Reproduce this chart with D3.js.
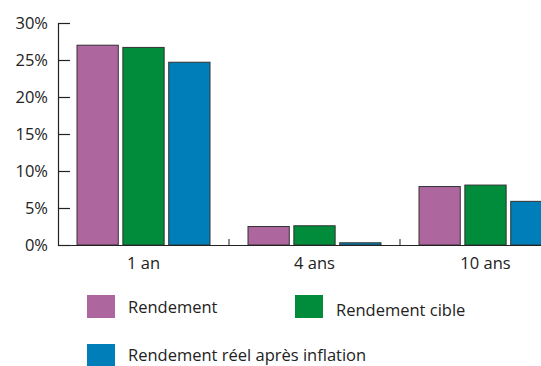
<!DOCTYPE html>
<html>
<head>
<meta charset="utf-8">
<script src="https://cdn.jsdelivr.net/npm/d3@7"></script>
<style>
  body { margin: 0; background: #fff; }
  text { font-family: "Open Sans", "Noto Sans", sans-serif; fill: #222; }
</style>
</head>
<body>
<script>
// data
const categories = ['1 an', '4 ans', '10 ans'];
const seriesNames = ['Rendement', 'Rendement cible', 'Rendement réel après inflation'];
const rendement = [27.0, 2.5, 7.9];
const rendementCible = [26.7, 2.6, 8.1];
const rendementReel = [24.7, 0.3, 5.9];
const yTicks = [0, 5, 10, 15, 20, 25, 30];
const colors = ['#ae669e', '#008c3a', '#007eb9'];

const seriesValues = [rendement, rendementCible, rendementReel];

const svg = d3.select('body')
              .append('svg')
              .attr('width', 541)
              .attr('height', 366);

const xscale = d3.scaleBand()
                .domain(categories)
                .range([58, 571])
                .paddingInner(0)
                .paddingOuter(0);

const inner = d3.scaleBand()
                .domain(d3.range(3))
                .range([19, xscale.bandwidth() - 19])
                .paddingInner(0.1);

const yscale = d3.scaleLinear()
                .domain([0, 30])
                .range([245, 23]);

// y axis, ticks point into the plot
const y_axis = d3.axisRight(yscale)
                .tickValues(yTicks)
                .tickSize(12)
                .tickFormat(d => d + '%');

const gy = svg.append('g')
  .attr('transform', 'translate(58,0)')
  .call(y_axis);
gy.select('.domain').attr('stroke', '#222').attr('stroke-width', 1.2);
gy.selectAll('.tick line').attr('stroke', '#222').attr('stroke-width', 1.2);
gy.selectAll('.tick text')
  .attr('x', -10)
  .attr('dy', '0.35em')
  .attr('text-anchor', 'end')
  .style('font-size', '16.5px')
  .style('font-family', '"Open Sans", sans-serif');

// bars
categories.forEach((cat, ci) => {
  svg.append('g')
    .selectAll('rect')
    .data(seriesValues.map((vals, si) => ({si, v: vals[ci]})))
    .enter().append('rect')
    .attr('x', d => xscale(cat) + inner(d.si))
    .attr('width', inner.bandwidth())
    .attr('y', d => yscale(d.v))
    .attr('height', d => yscale(0) - yscale(d.v))
    .attr('fill', d => colors[d.si])
    .attr('stroke', '#333')
    .attr('stroke-width', 1);
});

// x axis
const x_axis = d3.axisBottom(xscale).tickSize(0);
const gx = svg.append('g')
  .attr('transform', 'translate(0,245)')
  .call(x_axis);
gx.select('.domain').attr('stroke', '#222').attr('stroke-width', 1.2);
gx.selectAll('.tick text')
  .attr('y', 12)
  .attr('dy', '0.71em')
  .style('font-size', '16.5px')
  .style('font-family', '"Open Sans", sans-serif');

// small separators between categories
svg.append('g')
  .selectAll('line')
  .data(categories.slice(1))
  .enter().append('line')
  .attr('x1', d => xscale(d))
  .attr('x2', d => xscale(d))
  .attr('y1', 245)
  .attr('y2', 239)
  .attr('stroke', '#444')
  .attr('stroke-width', 1.2);

// legend
const legendPos = [[87, 295], [295, 295], [87, 344]];
const legendTextDy = [18, 21, 17];
const legend = svg.append('g')
  .selectAll('g')
  .data(seriesNames)
  .enter().append('g')
  .attr('transform', (d, i) => `translate(${legendPos[i][0]},${legendPos[i][1]})`);
legend.append('rect')
  .attr('width', 28)
  .attr('height', 23)
  .attr('fill', (d, i) => colors[i]);
legend.append('text')
  .attr('x', 41)
  .attr('y', (d, i) => legendTextDy[i])
  .style('font-size', '16.5px')
  .text(d => d);
</script>
</body>
</html>
